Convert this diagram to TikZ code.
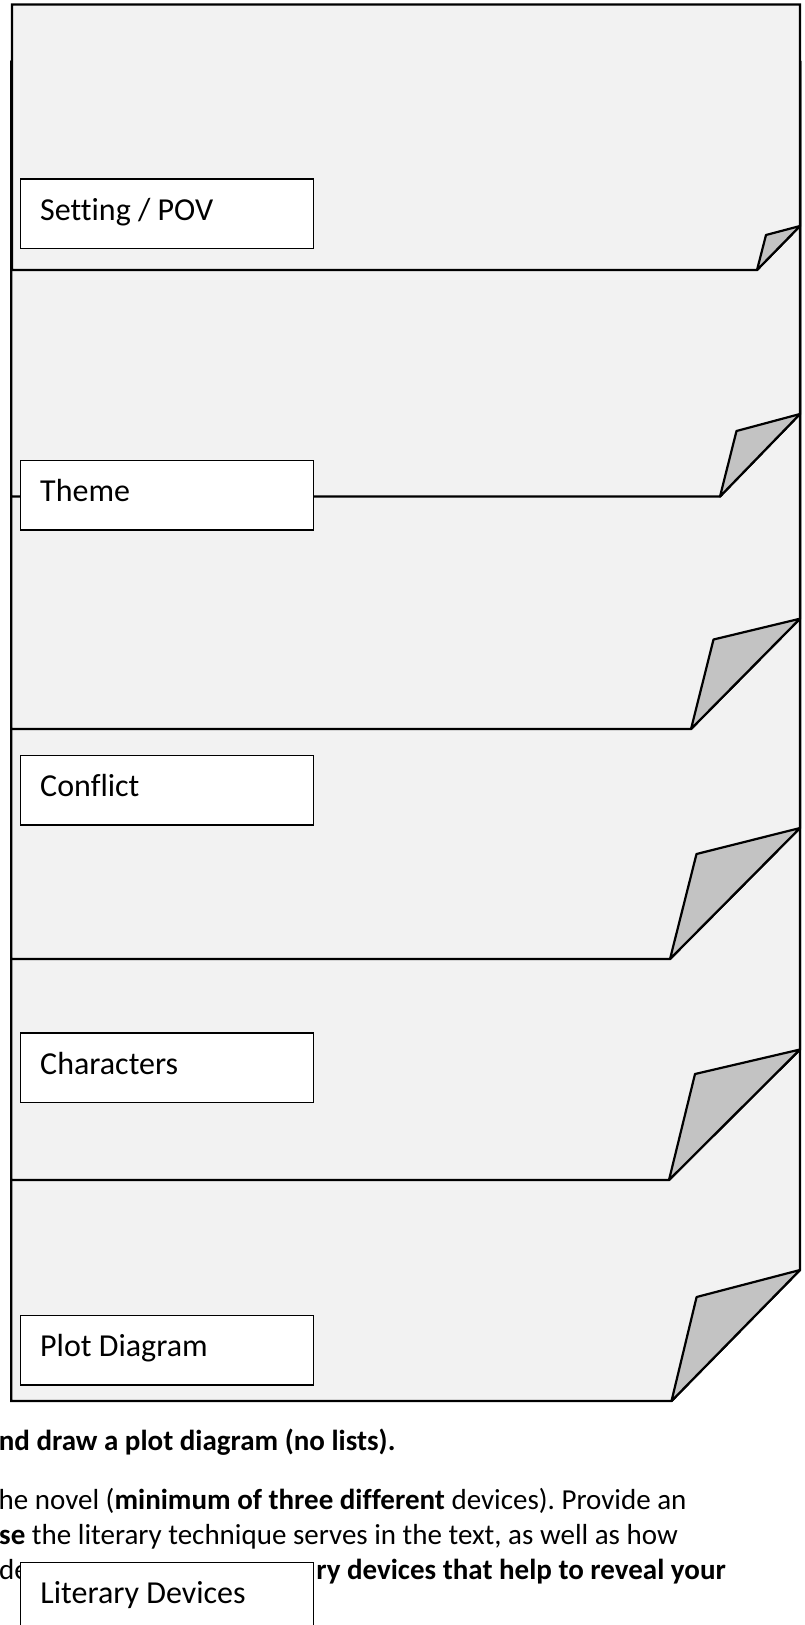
\documentclass[tikz,border=0pt]{standalone}
\usepackage{fontspec}
\setmainfont{Carlito}[Ligatures=CommonOff]
\definecolor{sheetfill}{HTML}{F2F2F2}
\definecolor{foldfill}{HTML}{C3C3C3}
\frenchspacing
\begin{document}
\begin{tikzpicture}[x=1pt,y=-1pt,
  sheet/.style={fill=sheetfill,draw=black,line width=2.2pt,line join=miter},
  foldpart/.style={fill=foldfill,draw=black,line width=2.2pt,line join=round},
  labelbox/.style={draw=black,fill=white,line width=1.3pt,minimum width=293pt,minimum height=69.5pt,inner sep=0pt,outer sep=0pt,anchor=north west},
  labeltext/.style={font=\fontsize{32}{38}\selectfont,inner sep=0pt,anchor=base west},
  bodytext/.style={font=\fontsize{29}{35}\selectfont,inner sep=0pt}]
\useasboundingbox (0,0) rectangle (804,1625);
\fill[white] (0,0) rectangle (804,1625);
% sheets, drawn from the bottom one up
\path[sheet] (11.2,62) -- (800,62) -- (800,1270) -- (671.5,1401) -- (11.2,1401) -- cycle;
\path[foldpart] (671.5,1401) -- (696.6,1297) -- (800,1270) -- cycle;
\path[sheet] (11.2,62) -- (800,62) -- (800,1049.5) -- (669,1180) -- (11.2,1180) -- cycle;
\path[foldpart] (669,1180) -- (695,1074) -- (800,1049.5) -- cycle;
\path[sheet] (11.2,62) -- (800,62) -- (800,828) -- (670,959) -- (11.2,959) -- cycle;
\path[foldpart] (670,959) -- (696.5,854) -- (800,828) -- cycle;
\path[sheet] (11.2,62) -- (800,62) -- (800,618.7) -- (691,729) -- (11.2,729) -- cycle;
\path[foldpart] (691,729) -- (713.5,639.5) -- (800,618.7) -- cycle;
\path[sheet] (11.2,62) -- (800,62) -- (800,414) -- (720,496.5) -- (11.2,496.5) -- cycle;
\path[foldpart] (720,496.5) -- (736.5,431) -- (800,414) -- cycle;
\path[sheet] (12,4.5) -- (800,4.5) -- (800,226) -- (757,270) -- (12,270) -- cycle;
\path[foldpart] (757,270) -- (766,235) -- (800,226) -- cycle;
% label boxes
\node[labelbox] (setbox) at (20.5,179) {};
\node[labeltext] at ([xshift=19.5pt,yshift=-41pt]setbox.north west) {Setting / POV};
\node[labelbox] (themebox) at (20.5,460.5) {};
\node[labeltext] at ([xshift=19.5pt,yshift=-41pt]themebox.north west) {Theme};
\node[labelbox] (conflictbox) at (20.5,755.5) {};
\node[labeltext] at ([xshift=19.5pt,yshift=-41pt]conflictbox.north west) {Conflict};
\node[labelbox] (charbox) at (20.5,1033) {};
\node[labeltext] at ([xshift=19.5pt,yshift=-41pt]charbox.north west) {Characters};
\node[labelbox] (plotbox) at (20.5,1315.5) {};
\node[labeltext] at ([xshift=19.5pt,yshift=-41pt]plotbox.north west) {Plot Diagram};
% body text
\node[bodytext,anchor=base west] (l1) at (-1.3,1450) {\textbf{nd draw a plot diagram (no lists).}};
\node[bodytext,anchor=base west] (l2) at (-1.5,1509) {he novel (\textbf{minimum of three different} devices). Provide an};
\node[bodytext,anchor=base west] (l3) at (-1,1544) {\textbf{se} the literary technique serves in the text, as well as how};
\node[bodytext,anchor=base west] (l4a) at (-1,1579) {de};
\node[bodytext,anchor=base east] (l4b) at (726,1579) {\textbf{ry devices that help to reveal your}};
\node[labelbox] (litbox) at (20.7,1562.7) {};
\node[labeltext] at ([xshift=19.5pt,yshift=-41pt]litbox.north west) {Literary Devices};
\end{tikzpicture}
\end{document}
